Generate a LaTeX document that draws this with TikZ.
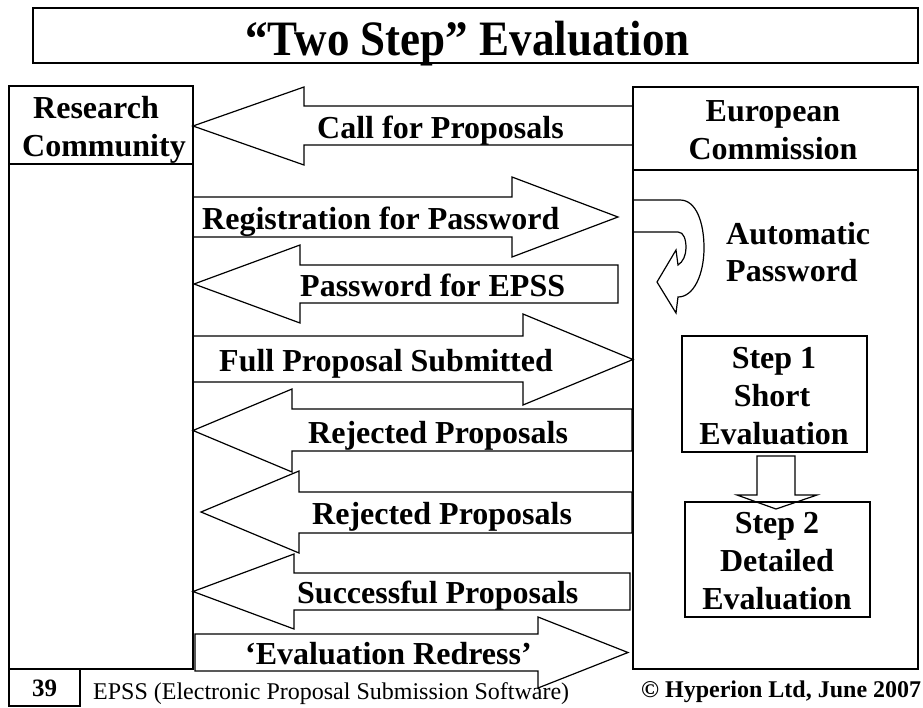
\documentclass[tikz,border=0pt]{standalone}
\usepackage{fontspec}
\setmainfont{Liberation Serif}
\begin{document}
\begin{tikzpicture}[x=1pt,y=-1pt,
  outline/.style={draw=black,line width=1.2pt,line join=miter},
  lbl/.style={font=\bfseries\fontsize{32}{38}\selectfont,inner sep=0pt,anchor=base west},
  clbl/.style={font=\bfseries\fontsize{32}{38}\selectfont,inner sep=0pt,anchor=base},
  foot/.style={font=\fontsize{24}{28}\selectfont,inner sep=0pt,anchor=base west}]
\useasboundingbox (0,0) rectangle (923,707);
\fill[white] (0,0) rectangle (923,707);
% right block arrow: tail, shafttop, shaftbot, headbase, headtop, headbot, tipx
\newcommand\blockR[7]{\draw[outline] (#1,#2) -- (#4,#2) -- (#4,#5) -- (#7,{(#5+#6)/2}) -- (#4,#6) -- (#4,#3) -- (#1,#3) -- cycle;}
% left block arrow: tail, shafttop, shaftbot, headbase, headtop, headbot, tipx
\newcommand\blockL[7]{\draw[outline] (#1,#2) -- (#4,#2) -- (#4,#5) -- (#7,{(#5+#6)/2}) -- (#4,#6) -- (#4,#3) -- (#1,#3) -- cycle;}
% title
\draw[outline] (33,8) rectangle (918,63);
\node[inner sep=0pt,anchor=base,font=\bfseries\fontsize{45}{50}\selectfont] (title) at (467.5,55) {\scalebox{1}[1.1]{“Two Step” Evaluation}};
% research community box
\draw[outline] (9,86) rectangle (193,669);
\draw[outline] (9,164) -- (193,164);
\node[lbl] (rc1) at (33,118) {Research};
\node[lbl] (rc2) at (22,156) {Community};
% european commission box
\draw[outline] (633,87) rectangle (918,669);
\draw[outline] (633,170) -- (918,170);
\node[clbl] (ec1) at (773,121) {European};
\node[clbl] (ec2) at (773,159) {Commission};
% block arrows
\blockL{633}{106}{145}{304}{87}{165}{193}
\node[lbl] (call) at (317,138) {Call for Proposals};
\blockR{193}{197}{237}{512}{177}{257}{618}
\node[lbl] (reg) at (202,229) {Registration for Password};
\blockL{618}{265}{303}{300}{245}{323}{194}
\node[lbl] (pw) at (300,296) {Password for EPSS};
\blockR{193}{336}{382}{523}{314}{405}{633}
\node[lbl] (full) at (219,371) {Full Proposal Submitted};
\blockL{632}{409}{451}{292}{389}{472}{193}
\node[lbl] (rej1) at (308,443) {Rejected Proposals};
\blockL{632}{492}{533}{299}{471}{553}{201}
\node[lbl] (rej2) at (312,524) {Rejected Proposals};
\blockL{630}{573}{610}{294}{554}{629}{193}
\node[lbl] (succ) at (297,603) {Successful Proposals};
\blockR{195}{634}{671}{538}{617}{688}{628}
\node[lbl] (redress) at (245,664) {‘Evaluation Redress’};
% curved arrow
\draw[outline] (632,200) -- (680,200)
  .. controls (696,200) and (704,222) .. (704,248)
  .. controls (704,274) and (694,297) .. (678,297)
  -- (676,313) -- (657,282) -- (676,250) -- (678,265)
  .. controls (683,262) and (686,255) .. (686,248)
  .. controls (686,240) and (684,232) .. (678,232)
  -- (632,232);
\node[lbl] (auto1) at (726,244) {Automatic};
\node[lbl] (auto2) at (726,281) {Password};
% step boxes
\draw[outline] (682,336) rectangle (867,452);
\node[clbl] (s1a) at (774,368) {Step 1};
\node[clbl] (s1b) at (772,406) {Short};
\node[clbl] (s1c) at (774,444) {Evaluation};
\draw[outline] (685,502) rectangle (870,617);
\node[clbl] (s2a) at (777,533) {Step 2};
\node[clbl] (s2b) at (777,571) {Detailed};
\node[clbl] (s2c) at (777,609) {Evaluation};
\draw[outline] (757,456) -- (795,456) -- (795,495) -- (817,495) -- (776,509) -- (737,495) -- (757,495) -- cycle;
% footer
\draw[outline] (9,669) rectangle (80,706);
\node[inner sep=0pt,anchor=base,font=\bfseries\fontsize{25}{28}\selectfont] (num) at (44.5,696) {39};
\node[foot] (epss) at (93,699) {EPSS (Electronic Proposal Submission Software)};
\node[foot,font=\bfseries\fontsize{24}{28}\selectfont] (copy) at (641,697) {© Hyperion Ltd, June 2007};
\end{tikzpicture}
\end{document}
